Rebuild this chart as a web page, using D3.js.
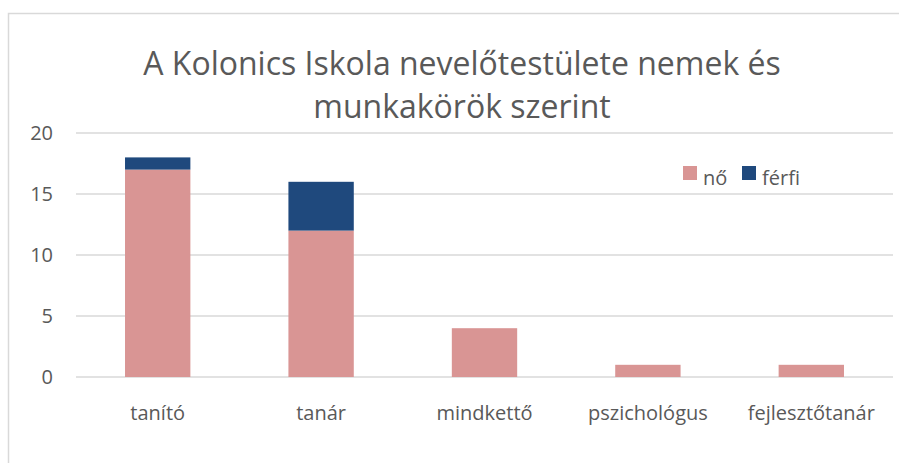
<!doctype html>
<html lang="en">
<head>
  <meta charset="utf-8">
  <style>
    body { margin: 0; background: #fff; }
    text { font-family: "Open Sans", "Noto Sans", sans-serif; fill: #595959; }
    .tick-label { font-size: 20px; }
    .title { font-size: 32px; }
  </style>
  <script src="https://d3js.org/d3.v7.min.js"></script>
</head>
<body>
  <script>
    const categories = ["tanító", "tanár", "mindkettő", "pszichológus", "fejlesztőtanár"];
    const no = [17, 12, 4, 1, 1];
    const ferfi = [1, 4, 0, 0, 0];
    const seriesNames = ["nő", "férfi"];
    const yTicks = [0, 5, 10, 15, 20];
    const titleLines = ["A Kolonics Iskola nevelőtestülete nemek és", "munkakörök szerint"];

    const colors = ["#d99594", "#1f497d"];

    const svg = d3.select("body").append("svg")
      .attr("width", 899)
      .attr("height", 463);

    // chart frame (only top and left edges show)
    svg.append("path")
      .attr("d", "M8.5,463 L8.5,13.5 L899,13.5")
      .attr("fill", "none")
      .attr("stroke", "#d9d9d9")
      .attr("stroke-width", 1.5);

    const x = d3.scaleBand()
      .domain(categories)
      .range([76, 893])
      .paddingInner(0.6)
      .paddingOuter(0.3);

    const y = d3.scaleLinear()
      .domain([0, 20])
      .range([377, 133]);

    // gridlines
    svg.append("g")
      .selectAll("line")
      .data(yTicks)
      .join("line")
      .attr("x1", 76)
      .attr("x2", 893)
      .attr("y1", d => y(d))
      .attr("y2", d => y(d))
      .attr("stroke", "#d9d9d9")
      .attr("stroke-width", 1.5);

    // y tick labels
    svg.append("g")
      .selectAll("text")
      .data(yTicks)
      .join("text")
      .attr("class", "tick-label")
      .attr("x", 53)
      .attr("y", d => y(d))
      .attr("dy", "0.35em")
      .attr("text-anchor", "end")
      .text(d => d);

    const table = categories.map((c, i) => ({ cat: c, "nő": no[i], "férfi": ferfi[i] }));
    const stacked = d3.stack().keys(seriesNames)(table);

    svg.append("g")
      .selectAll("g")
      .data(stacked)
      .join("g")
      .attr("fill", (d, i) => colors[i])
      .selectAll("rect")
      .data(d => d)
      .join("rect")
      .attr("x", d => x(d.data.cat))
      .attr("width", x.bandwidth())
      .attr("y", d => y(d[1]))
      .attr("height", d => y(d[0]) - y(d[1]));

    // x labels
    svg.append("g")
      .selectAll("text")
      .data(categories)
      .join("text")
      .attr("class", "tick-label")
      .attr("x", d => x(d) + x.bandwidth() / 2)
      .attr("y", 420)
      .attr("text-anchor", "middle")
      .text(d => d);

    // title
    svg.append("g")
      .selectAll("text")
      .data(titleLines)
      .join("text")
      .attr("class", "title")
      .attr("x", 462)
      .attr("y", (d, i) => 75 + i * 43)
      .attr("text-anchor", "middle")
      .text(d => d);

    // legend
    const legendX = [683, 742];
    const legend = svg.append("g")
      .selectAll("g")
      .data(seriesNames)
      .join("g")
      .attr("transform", (d, i) => `translate(${legendX[i]},166)`);
    legend.append("rect")
      .attr("width", 14)
      .attr("height", 14)
      .attr("fill", (d, i) => colors[i]);
    legend.append("text")
      .attr("class", "tick-label")
      .attr("x", 20)
      .attr("y", 19)
      .text(d => d);
  </script>
</body>
</html>
